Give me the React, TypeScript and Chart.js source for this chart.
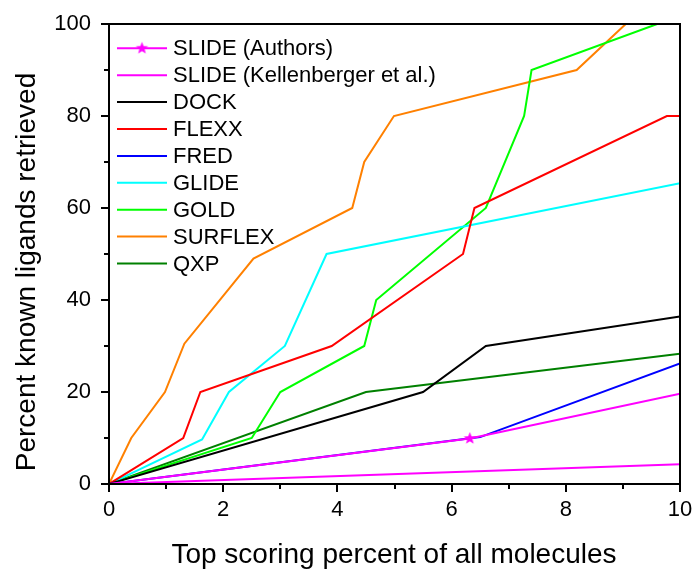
import React, { useEffect, useRef } from "react";
import { Chart, registerables } from "chart.js";
Chart.register(...registerables);

// ---- data ----
const slideAuthorsX = [0, 6.32, 10];
const slideAuthorsY = [0, 9.9, 19.6];
const slideKellX = [0, 10];
const slideKellY = [0, 4.3];
const dockX = [0, 5.5, 6.6, 10];
const dockY = [0, 20, 30, 36.4];
const flexxX = [0, 1.3, 1.6, 3.9, 6.2, 6.4, 9.77, 10];
const flexxY = [0, 10, 20, 30, 50, 60, 80, 80];
const fredX = [0, 6.5, 10];
const fredY = [0, 10.2, 26.2];
const glideX = [0, 1.63, 2.1, 3.08, 3.81, 10];
const glideY = [0, 9.7, 20, 30, 50, 65.4];
const goldX = [0, 2.5, 3.0, 4.47, 4.68, 6.6, 7.27, 7.4, 9.6];
const goldY = [0, 10, 20, 30, 40, 60, 80, 90, 100];
const surflexX = [0, 0.39, 0.98, 1.32, 2.53, 4.26, 4.47, 4.99, 8.19, 9.05];
const surflexY = [0, 10, 20, 30.5, 49, 60, 70, 80, 90, 100];
const qxpX = [0, 4.5, 10];
const qxpY = [0, 20, 28.3];

const seriesNames = [
  "SLIDE (Authors)",
  "SLIDE (Kellenberger et al.)",
  "DOCK",
  "FLEXX",
  "FRED",
  "GLIDE",
  "GOLD",
  "SURFLEX",
  "QXP",
];
const seriesColors = [
  "#FF00FF",
  "#FF00FF",
  "#000000",
  "#FF0000",
  "#0000FF",
  "#00FFFF",
  "#00FF00",
  "#FF8000",
  "#008000",
];
const seriesX = [slideAuthorsX, slideKellX, dockX, flexxX, fredX, glideX, goldX, surflexX, qxpX];
const seriesY = [slideAuthorsY, slideKellY, dockY, flexxY, fredY, glideY, goldY, surflexY, qxpY];

const xTickValues = [0, 2, 4, 6, 8, 10];
const yTickValues = [0, 20, 40, 60, 80, 100];
const xTitle = "Top scoring percent of all molecules";
const yTitle = "Percent known ligands retrieved";

const FONT = "'Liberation Sans', Arial, Helvetica, sans-serif";

function makeStar(color: string, r: number): HTMLCanvasElement {
  const size = Math.ceil(r * 2 + 2);
  const c = document.createElement("canvas");
  c.width = size;
  c.height = size;
  const ctx = c.getContext("2d")!;
  const cx = size / 2;
  const cy = size / 2;
  ctx.beginPath();
  for (let i = 0; i < 10; i++) {
    const a = -Math.PI / 2 + (i * Math.PI) / 5;
    const rad = i % 2 === 0 ? r : r * 0.42;
    const px = cx + rad * Math.cos(a);
    const py = cy + rad * Math.sin(a);
    if (i === 0) ctx.moveTo(px, py);
    else ctx.lineTo(px, py);
  }
  ctx.closePath();
  ctx.fillStyle = color;
  ctx.fill();
  return c;
}

function zeroPad(scale: any) {
  scale.paddingLeft = 0;
  scale.paddingRight = 0;
  scale.paddingTop = 0;
  scale.paddingBottom = 0;
}

export default function App() {
  const canvasRef = useRef<HTMLCanvasElement | null>(null);

  useEffect(() => {
    document.body.style.margin = "0";
    const canvas = canvasRef.current!;
    const star = makeStar("#FF00FF", 6.5);

    const datasets = seriesNames.map((name, i) => ({
      label: name,
      data: seriesX[i].map((x, j) => ({ x, y: seriesY[i][j] })),
      borderColor: seriesColors[i],
      backgroundColor: seriesColors[i],
      borderWidth: 2,
      fill: false,
      tension: 0,
      pointRadius: i === 0 ? seriesX[i].map((x) => (x > 0 && x < 10 ? 6 : 0)) : 0,
      pointStyle: i === 0 ? star : "circle",
      pointHoverRadius: 0,
    }));

    const decor = {
      id: "decor",
      afterDraw(chart: any) {
        const ctx = chart.ctx;
        const a = chart.chartArea;
        const xs = chart.scales.x;
        const ys = chart.scales.y;
        ctx.save();
        // frame
        ctx.strokeStyle = "#000";
        ctx.lineWidth = 2;
        ctx.strokeRect(a.left, a.top, a.right - a.left, a.bottom - a.top);
        // ticks
        ctx.lineWidth = 2;
        ctx.beginPath();
        for (let v = 0; v <= 10; v += 1) {
          const px = Math.round(xs.getPixelForValue(v));
          const len = v % 2 === 0 ? 8 : 5;
          ctx.moveTo(px, a.bottom);
          ctx.lineTo(px, a.bottom + len);
        }
        for (let v = 0; v <= 100; v += 10) {
          const py = Math.round(ys.getPixelForValue(v));
          const len = v % 20 === 0 ? 8 : 5;
          ctx.moveTo(a.left, py);
          ctx.lineTo(a.left - len, py);
        }
        ctx.stroke();

        // axis titles
        ctx.fillStyle = "#000";
        ctx.font = `28px ${FONT}`;
        ctx.textAlign = "center";
        ctx.textBaseline = "alphabetic";
        ctx.fillText(xTitle, 394, 563);
        ctx.save();
        ctx.translate(35, 272);
        ctx.rotate(-Math.PI / 2);
        ctx.fillText(yTitle, 0, 0);
        ctx.restore();

        // legend
        ctx.font = `22px ${FONT}`;
        ctx.textAlign = "left";
        ctx.textBaseline = "middle";
        const lx0 = 117;
        const lx1 = 167;
        const ty = 48.3;
        const dy = 26.9;
        seriesNames.forEach((name, i) => {
          const y = ty + i * dy;
          ctx.strokeStyle = seriesColors[i];
          ctx.lineWidth = 2;
          ctx.beginPath();
          ctx.moveTo(lx0, y);
          ctx.lineTo(lx1, y);
          ctx.stroke();
          if (i === 0) {
            ctx.drawImage(star, (lx0 + lx1) / 2 - star.width / 2, y - star.height / 2);
          }
          ctx.fillStyle = "#000";
          ctx.fillText(name, 173, y + 1);
        });
        ctx.restore();
      },
    };

    const chart = new Chart(canvas, {
      type: "line",
      data: { datasets: datasets as any },
      options: {
        animation: false,
        responsive: false,
        maintainAspectRatio: false,
        layout: { padding: { top: 24, right: 17, left: 0, bottom: 0 } },
        plugins: {
          legend: { display: false },
          tooltip: { enabled: false },
        },
        scales: {
          x: {
            type: "linear",
            min: 0,
            max: 10,
            afterFit(scale: any) {
              scale.height = 87;
              zeroPad(scale);
            },
            afterBuildTicks(scale: any) {
              scale.ticks = xTickValues.map((v) => ({ value: v }));
            },
            grid: { display: false, drawTicks: false },
            border: { display: false },
            ticks: {
              padding: 13,
              color: "#000",
              font: { family: FONT, size: 22 },
              maxRotation: 0,
              autoSkip: false,
            },
          },
          y: {
            type: "linear",
            min: 0,
            max: 100,
            afterFit(scale: any) {
              scale.width = 109;
              zeroPad(scale);
            },
            afterBuildTicks(scale: any) {
              scale.ticks = yTickValues.map((v) => ({ value: v }));
            },
            grid: { display: false, drawTicks: false },
            border: { display: false },
            ticks: {
              padding: 18,
              color: "#000",
              font: { family: FONT, size: 22 },
              autoSkip: false,
            },
          },
        },
      },
      plugins: [decor],
    });

    return () => chart.destroy();
  }, []);

  return (
    <div style={{ width: 697, height: 571, overflow: "hidden", background: "#fff" }}>
      <canvas ref={canvasRef} width={697} height={571} style={{ display: "block" }} />
    </div>
  );
}
